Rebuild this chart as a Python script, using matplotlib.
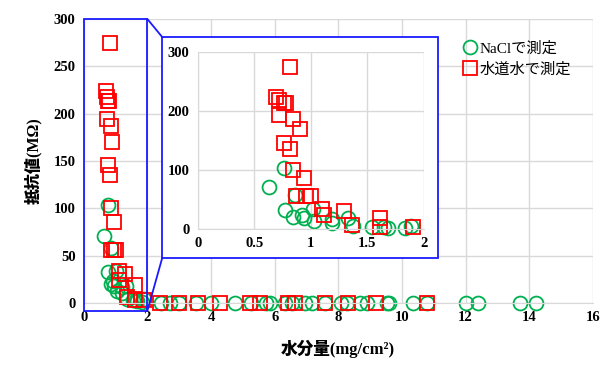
import matplotlib
matplotlib.use('Agg')
import matplotlib.pyplot as plt
from matplotlib.patches import Rectangle, ConnectionPatch

plt.rcParams['font.family'] = ['Liberation Serif', 'Noto Sans CJK JP', 'DejaVu Sans']

# NaCl series (x: mg/cm2, y: MOhm)
nacl_x = [0.63, 0.76, 0.86, 0.77, 0.84, 0.92, 0.94, 1.02, 1.03, 1.19, 1.19, 1.33,
          1.37, 1.54, 1.65, 1.68, 1.83, 1.89,
          2.44, 2.70, 3.00, 3.54, 4.00, 4.75, 5.27, 5.74, 5.85, 6.32, 6.55, 6.95,
          7.16, 7.58, 8.10, 8.26, 8.68, 8.89, 9.52, 9.60, 10.36, 10.78,
          12.03, 12.40, 13.70, 14.23]
nacl_y = [71, 104, 58, 33, 20, 23, 18, 34, 13, 17, 11, 18,
          4.5, 3, 3, 2, 1, 4.5,
          0.5, 0.5, 0.5, 0.5, 0.5, 0.5, 0.5, 0.5, 0.5, 0.5, 0.5, 0.5,
          0.5, 0.5, 0.5, 0.5, 0.5, 0.5, 0.5, 0.5, 0.5, 0.5,
          0.5, 0.5, 0.5, 0.5]

# tap water series
tap_x = [0.82, 0.69, 0.72, 0.76, 0.78, 0.72, 0.84, 0.90, 0.76, 0.82, 0.84, 0.94,
         0.87, 0.96, 1.00, 1.10, 1.12, 1.29, 1.36, 1.61, 1.61, 1.90,
         2.39, 2.99, 3.58, 4.28, 5.22, 5.53, 6.42, 6.64, 7.58, 8.31, 9.20, 10.78]
tap_y = [275, 224, 218, 213, 214, 194, 187, 170, 146, 135, 100, 86,
         56, 56, 56, 34, 24, 31, 7, 19, 3, 3,
         0.5, 0.5, 0.5, 0.5, 0.5, 0.5, 0.5, 0.5, 0.5, 0.5, 0.5, 0.5]

green = '#00B050'
red = '#FF0000'
blue = '#1A1AFF'
grid_c = '#D9D9D9'

fig = plt.figure(figsize=(6.03, 3.67), dpi=100)
ax = fig.add_axes([0.139, 0.174, 0.844, 0.774])


def style(a, xt, yt, xl, yl):
    a.set_xlim(*xl)
    a.set_ylim(*yl)
    a.set_xticks(xt)
    a.set_yticks(yt)
    a.grid(True, color=grid_c, linewidth=1)
    a.set_axisbelow(True)
    for s in ['top', 'right', 'left']:
        a.spines[s].set_visible(False)
    a.spines['bottom'].set_color(grid_c)
    a.tick_params(length=0, labelsize=10.5, pad=6)
    for lab in a.get_xticklabels() + a.get_yticklabels():
        lab.set_fontweight('bold')


style(ax, range(0, 17, 2), range(0, 301, 50), (0, 16), (0, 300))
ax.plot(nacl_x, nacl_y, 'o', ms=10, mfc='none', mec=green, mew=1.3,
        clip_on=False, label='NaClで測定')
ax.plot(tap_x, tap_y, 's', ms=10, mfc='none', mec=red, mew=1.3,
        clip_on=False, label='水道水で測定')
ax.set_xlabel('水分量(mg/cm²)', fontsize=12, fontweight='heavy', labelpad=11)
ax.set_ylabel('抵抗値(MΩ)', fontsize=11.5, fontweight='heavy', labelpad=8)
ax.legend(loc='upper left', bbox_to_anchor=(0.72, 0.96), frameon=False,
          fontsize=11, handletextpad=0.0, borderpad=0.2, labelspacing=0.45,
          handlelength=1.2)

# zoom box in main axes
ax.add_patch(Rectangle((0, -8), 2, 308, fill=False, ec=blue, lw=1.3, clip_on=False, zorder=5))

# inset frame
fx0, fy0, fx1, fy1 = 0.269, 0.297, 0.726, 0.899
fig.patches.append(Rectangle((fx0, fy0), fx1 - fx0, fy1 - fy0, transform=fig.transFigure,
                             fc='white', ec=blue, lw=1.3, zorder=1))
for (dx, dy), (gx, gy) in [((2, 300), (fx0, fy1)), ((2, -8), (fx0, fy0))]:
    con = ConnectionPatch(xyA=(dx, dy), coordsA=ax.transData, xyB=(gx, gy),
                          coordsB=fig.transFigure, color=blue, lw=1.3, zorder=2)
    fig.add_artist(con)

ins = fig.add_axes([0.328, 0.376, 0.375, 0.482], zorder=3)
ins.set_facecolor('white')
style(ins, [0, 0.5, 1, 1.5, 2], [0, 100, 200, 300], (0, 2), (0, 300))
ins.set_xticklabels(['0', '0.5', '1', '1.5', '2'], fontweight='bold')
ins.spines['left'].set_visible(True)
ins.spines['left'].set_color(grid_c)

# only the points up to x = 2 go in the inset
nx = [x for x in nacl_x if x <= 2]
ny = [y for x, y in zip(nacl_x, nacl_y) if x <= 2]
tx = [x for x in tap_x if x <= 2]
ty = [y for x, y in zip(tap_x, tap_y) if x <= 2]
ins.plot(nx, ny, 'o', ms=10, mfc='none', mec=green, mew=1.3, clip_on=False)
ins.plot(tx, ty, 's', ms=10, mfc='none', mec=red, mew=1.3, clip_on=False)
ins.set_xlim(0, 2)

fig.savefig('out.png', dpi=100)
